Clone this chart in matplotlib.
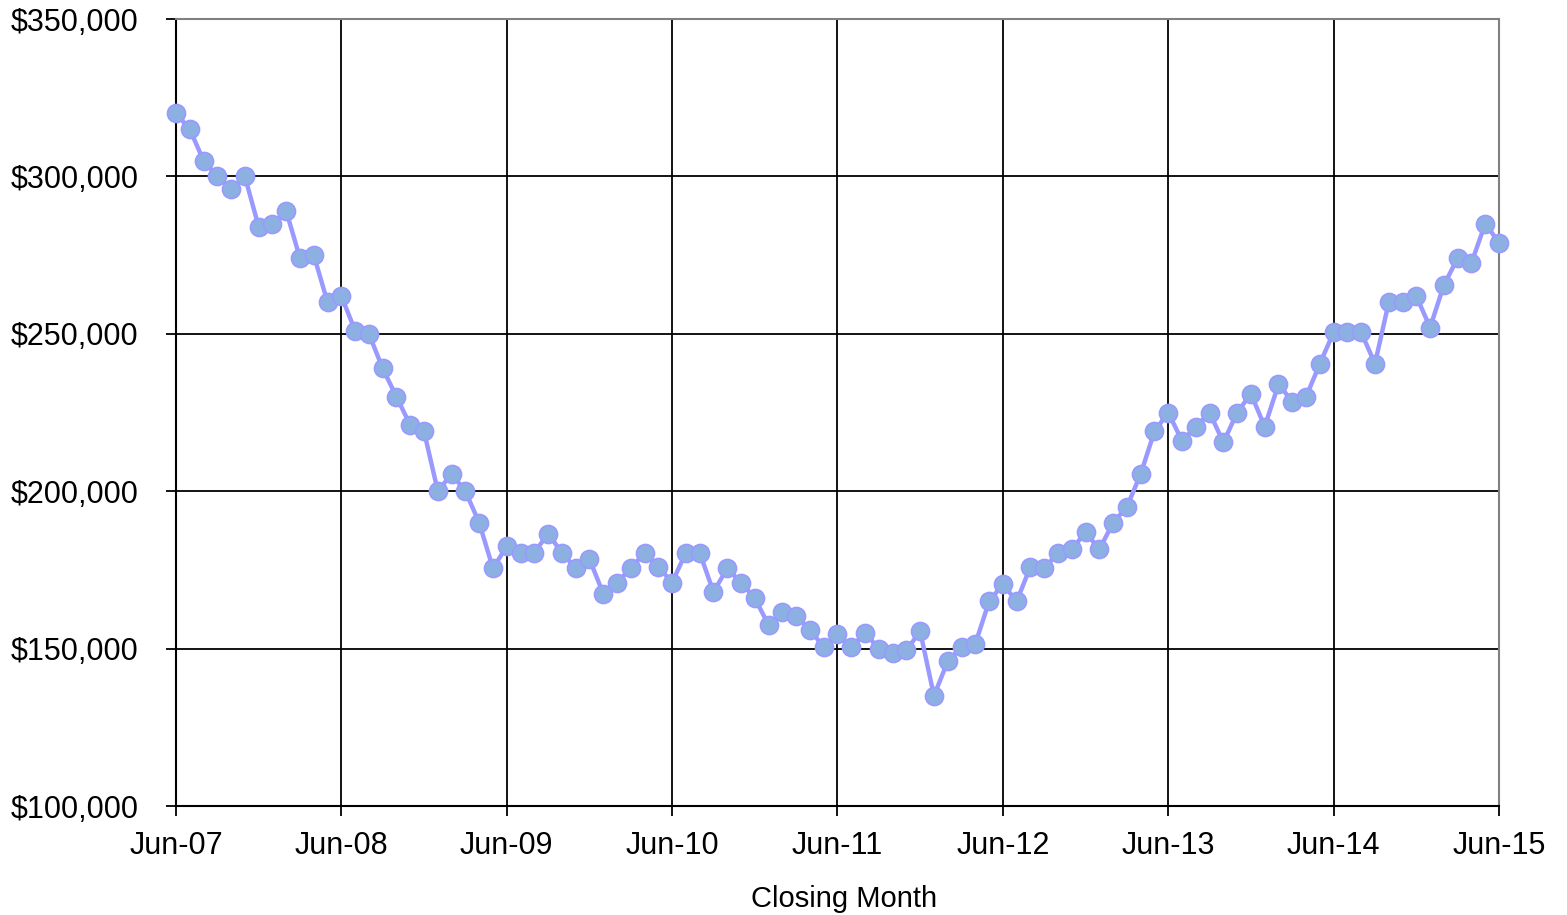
import numpy as np
import matplotlib
matplotlib.use("Agg")
import matplotlib.pyplot as plt
from matplotlib.ticker import FuncFormatter

plt.rcParams['font.family'] = ['Liberation Sans', 'DejaVu Sans']

# median closing price per month, Jun-07 .. Jun-15
prices = [
    320000, 315000, 305000, 300000, 296000, 300000, 284000, 285000, 289000, 274000, 275000, 260000,
    262000, 251000, 250000, 239000, 230000, 221000, 219000, 200000, 205500, 200000, 190000, 175500,
    182500, 180500, 180500, 186500, 180500, 175500, 178500, 167500, 171000, 175500, 180500, 176000,
    171000, 180500, 180500, 168000, 175500, 171000, 166000, 157500, 161500, 160500, 156000, 150500,
    154500, 150500, 155000, 150000, 148500, 149500, 155500, 135000, 146000, 150500, 151500, 165000,
    170500, 165000, 176000, 175500, 180500, 181500, 187000, 181500, 190000, 195000, 205500, 219000,
    225000, 216000, 220500, 225000, 215500, 225000, 231000, 220500, 234000, 228500, 230000, 240500,
    250500, 250500, 250500, 240500, 260000, 260000, 262000, 252000, 265500, 274000, 272500, 285000,
    279000,
]
year_labels = ["Jun-07", "Jun-08", "Jun-09", "Jun-10", "Jun-11", "Jun-12", "Jun-13", "Jun-14", "Jun-15"]
y_ticks = [100000, 150000, 200000, 250000, 300000, 350000]

months = np.arange(len(prices))

fig = plt.figure(figsize=(15.67, 9.15), dpi=100)
ax = fig.add_axes([0.1123, 0.1191, 0.8443, 0.8601])

ax.plot(months, prices, color="#9999FF", lw=3.2, marker="o", ms=13,
        mfc="#8DB0E3", mec="#9999FF", mew=1.2, zorder=3, clip_on=False)

ax.set_xlim(0, 96)
ax.set_ylim(100000, 350000)
ax.set_xticks(np.arange(0, 97, 12))
ax.set_xticklabels(year_labels)
ax.set_yticks(y_ticks)
ax.yaxis.set_major_formatter(FuncFormatter(lambda v, p: f"${v:,.0f}"))

ax.grid(True, color="black", lw=1.3)
ax.set_axisbelow(True)

for s in ["top", "right"]:
    ax.spines[s].set_color("#808080")
    ax.spines[s].set_linewidth(1.5)
for s in ["left", "bottom"]:
    ax.spines[s].set_color("black")
    ax.spines[s].set_linewidth(1.5)

ax.tick_params(axis="y", direction="out", length=7, width=1.3, pad=20, labelsize=22)
ax.tick_params(axis="x", direction="out", length=7, width=1.3, pad=11, labelsize=22)

ax.set_xlabel("Closing Month", fontsize=21)
ax.xaxis.set_label_coords(0.505, -0.1)

fig.savefig("out.png", dpi=100)
